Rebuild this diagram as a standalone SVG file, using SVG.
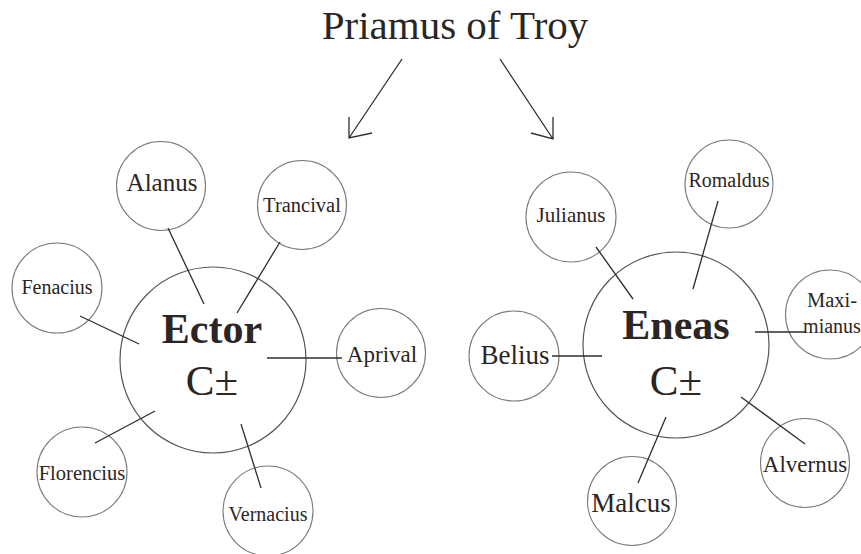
<svg xmlns="http://www.w3.org/2000/svg" width="861" height="554" viewBox="0 0 861 554">
<style>
text{font-family:"Liberation Serif","Times New Roman",serif;fill:#2b2523;text-anchor:middle}
.c{fill:#fff;stroke:#7a7a7a;stroke-width:1.1}
.b{fill:none;stroke:#555;stroke-width:1.2}
.l{stroke:#2e2e2e;stroke-width:1.3;fill:none}
.big{font-weight:bold;font-size:42px}
.cpm{font-size:43px}
</style>
<rect width="861" height="554" fill="#fff"/>
<g id="title"><text x="455" y="39" font-size="41">Priamus of Troy</text></g>

<g id="ector"><circle class="b" cx="213" cy="360" r="93"/><text class="big" x="212" y="343">Ector</text><text class="cpm" x="212" y="395">C±</text></g>
<g id="alanus"><circle class="c" cx="161" cy="186" r="44.5"/><text x="162" y="191" font-size="25">Alanus</text></g>
<g id="trancival"><circle class="c" cx="302" cy="205" r="44.5"/><text x="302" y="212" font-size="20.5">Trancival</text></g>
<g id="fenacius"><circle class="c" cx="57" cy="288" r="45"/><text x="57" y="294" font-size="20">Fenacius</text></g>
<g id="aprival"><circle class="c" cx="381" cy="353" r="44.5"/><text x="382" y="362" font-size="23">Aprival</text></g>
<g id="florencius"><circle class="c" cx="82" cy="472" r="45"/><text x="82" y="480" font-size="20.5">Florencius</text></g>
<g id="vernacius"><circle class="c" cx="268" cy="511" r="45"/><text x="268" y="521" font-size="20">Vernacius</text></g>

<g id="eneas"><circle class="b" cx="676" cy="345" r="93"/><text class="big" x="676" y="339" font-size="46">Eneas</text><text class="cpm" x="676" y="395">C±</text></g>
<g id="julianus"><circle class="c" cx="571" cy="217" r="45"/><text x="571" y="222" font-size="21">Julianus</text></g>
<g id="romaldus"><circle class="c" cx="729" cy="184" r="44"/><text x="729" y="187" font-size="20">Romaldus</text></g>
<g id="maximianus"><circle class="c" cx="830" cy="314.5" r="44.5"/><text x="832" y="307" font-size="20.5">Maxi-</text><text x="832" y="333" font-size="20">mianus</text></g>
<g id="belius"><circle class="c" cx="514" cy="356" r="45"/><text x="515" y="364" font-size="27">Belius</text></g>
<g id="alvernus"><circle class="c" cx="805" cy="463" r="44.5"/><text x="805" y="472" font-size="23">Alvernus</text></g>
<g id="malcus"><circle class="c" cx="632" cy="501" r="44.5"/><text x="631" y="512" font-size="27">Malcus</text></g>

<g id="connectors" class="l">
<path d="M402 59L349 138M349 117L349 138L372 133"/>
<path d="M500 59L553 139M553 117L553 139L531 133"/>
<path d="M168 228L204 304"/>
<path d="M280 242L237 313"/>
<path d="M80 316L139 344"/>
<path d="M267 358L342 358"/>
<path d="M155 411L95 443"/>
<path d="M241 424L261 488"/>
<path d="M596 247L633 299"/>
<path d="M718 201L693 289"/>
<path d="M755 332L805 332"/>
<path d="M552 356L602 356"/>
<path d="M741 397L805 444"/>
<path d="M666 417L638 483"/>
</g>
</svg>
